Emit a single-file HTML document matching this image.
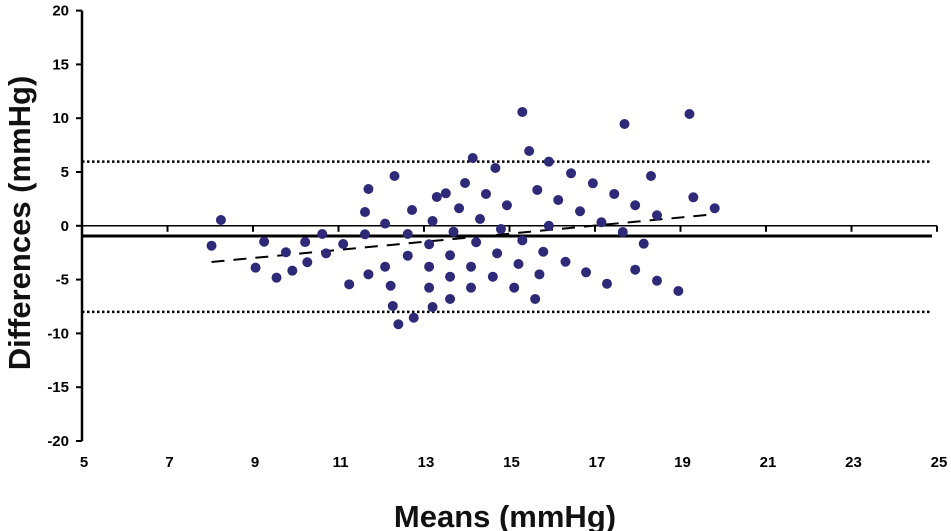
<!DOCTYPE html>
<html><head><meta charset="utf-8"><style>
html,body{margin:0;padding:0;background:#fff;}
svg{display:block;font-family:"Liberation Sans",Arial,sans-serif;}
</style></head><body>
<svg id="chart" width="951" height="531" viewBox="0 0 951 531"></svg>
<script>
const xTicks=[5,7,9,11,13,15,17,19,21,23,25];
const yTicks=[20,15,10,5,0,-5,-10,-15,-20];
const meanDiff=-0.95;
const upperLoA=5.96;
const lowerLoA=-8.0;
const regX=[8.03,19.78];
const regY=[-3.36,1.07];
const ptX=[8.03,8.25,9.26,9.06,9.55,9.77,9.92,10.22,10.27,10.62,10.71,11.11,11.25,11.62,11.70,11.62,11.70,12.09,12.09,12.31,12.22,12.27,12.40,12.72,12.62,12.62,12.76,13.12,13.12,13.12,13.20,13.20,13.30,13.51,13.61,13.61,13.61,13.69,13.82,13.96,14.14,14.22,14.10,14.10,14.31,14.45,14.67,14.61,14.71,14.80,14.94,15.11,15.21,15.30,15.30,15.46,15.60,15.65,15.70,15.79,15.92,15.92,16.44,16.14,16.31,16.65,16.79,16.95,17.15,17.28,17.45,17.65,17.69,17.94,17.94,18.14,18.31,18.45,18.45,18.95,19.21,19.30,19.80];
const ptY=[-1.85,0.54,-1.48,-3.89,-4.82,-2.46,-4.17,-1.51,-3.39,-0.76,-2.56,-1.69,-5.44,1.28,3.42,-0.79,-4.51,0.20,-3.80,4.63,-5.57,-7.45,-9.15,1.47,-0.76,-2.78,-8.54,-1.72,-3.80,-5.75,0.45,-7.55,2.68,3.02,-2.74,-4.73,-6.80,-0.55,1.63,3.98,6.30,-1.53,-3.80,-5.75,0.63,2.96,5.37,-4.73,-2.56,-0.30,1.91,-5.75,-3.55,10.58,-1.35,6.95,-6.80,3.33,-4.51,-2.41,5.96,0.0,4.88,2.40,-3.34,1.35,-4.32,3.95,0.33,-5.38,2.96,-0.58,9.46,1.91,-4.08,-1.66,4.63,0.98,-5.10,-6.06,10.39,2.65,1.63];

const svg=document.getElementById('chart');
const NS='http://www.w3.org/2000/svg';
const X0=82,X1=937,Y0=225.8,YS=10.76;
function sx(v){return X0+(v-5)*(X1-X0)/20;}
function sy(v){return Y0-v*YS;}
function mk(tag,attrs,text){const e=document.createElementNS(NS,tag);for(const k in attrs)e.setAttribute(k,attrs[k]);if(text!==undefined)e.textContent=text;svg.appendChild(e);return e;}

// y axis
let e=mk('line',{x1:X0,y1:sy(20),x2:X0,y2:sy(-20),stroke:'#000','stroke-width':2.5});


yTicks.forEach(v=>{
  let t=mk('line',{x1:X0-6,y1:sy(v),x2:X0,y2:sy(v),stroke:'#000','stroke-width':2});
  
  
  let l=mk('text',{x:X0-13,y:sy(v)+5,'text-anchor':'end','font-size':15,'font-weight':'bold'},(v<0?'-':'')+Math.abs(v));
  
  
});
// zero line with ticks (x axis)
e=mk('line',{x1:X0,y1:sy(0),x2:X1,y2:sy(0),stroke:'#000','stroke-width':1.5});


xTicks.forEach(v=>{
  let t=mk('line',{x1:sx(v),y1:sy(0),x2:sx(v),y2:sy(0)+6,stroke:'#000','stroke-width':2});
  
  
  let l=mk('text',{x:sx(v)+2,y:467,'text-anchor':'middle','font-size':15,'font-weight':'bold'},String(v));
  
  
});
// mean line
e=mk('line',{x1:X0,y1:sy(meanDiff),x2:932,y2:sy(meanDiff),stroke:'#000','stroke-width':3});


// limits of agreement
e=mk('line',{x1:X0,y1:sy(upperLoA),x2:930,y2:sy(upperLoA),stroke:'#000','stroke-width':2.5,'stroke-dasharray':'2.5 2.5'});


e=mk('line',{x1:X0,y1:sy(lowerLoA),x2:930,y2:sy(lowerLoA),stroke:'#000','stroke-width':2.5,'stroke-dasharray':'2.5 2.5'});


// regression line
e=mk('line',{x1:sx(regX[0]),y1:sy(regY[0]),x2:sx(regX[1]),y2:sy(regY[1]),stroke:'#000','stroke-width':2,'stroke-dasharray':'13 9'});


// points
ptX.forEach((v,i)=>{
  let c=mk('circle',{cx:sx(v),cy:sy(ptY[i]),r:5,fill:'#2f2a78'});
  
  
});
// titles
e=mk('text',{x:505,y:527,'text-anchor':'middle','font-size':31,'font-weight':'bold',fill:'#111'},'Means (mmHg)');


e=mk('text',{x:0,y:0,'text-anchor':'middle','font-size':31,'font-weight':'bold',fill:'#111',transform:'translate(30,223) rotate(-90)'},'Differences (mmHg)');


</script>
</body></html>
